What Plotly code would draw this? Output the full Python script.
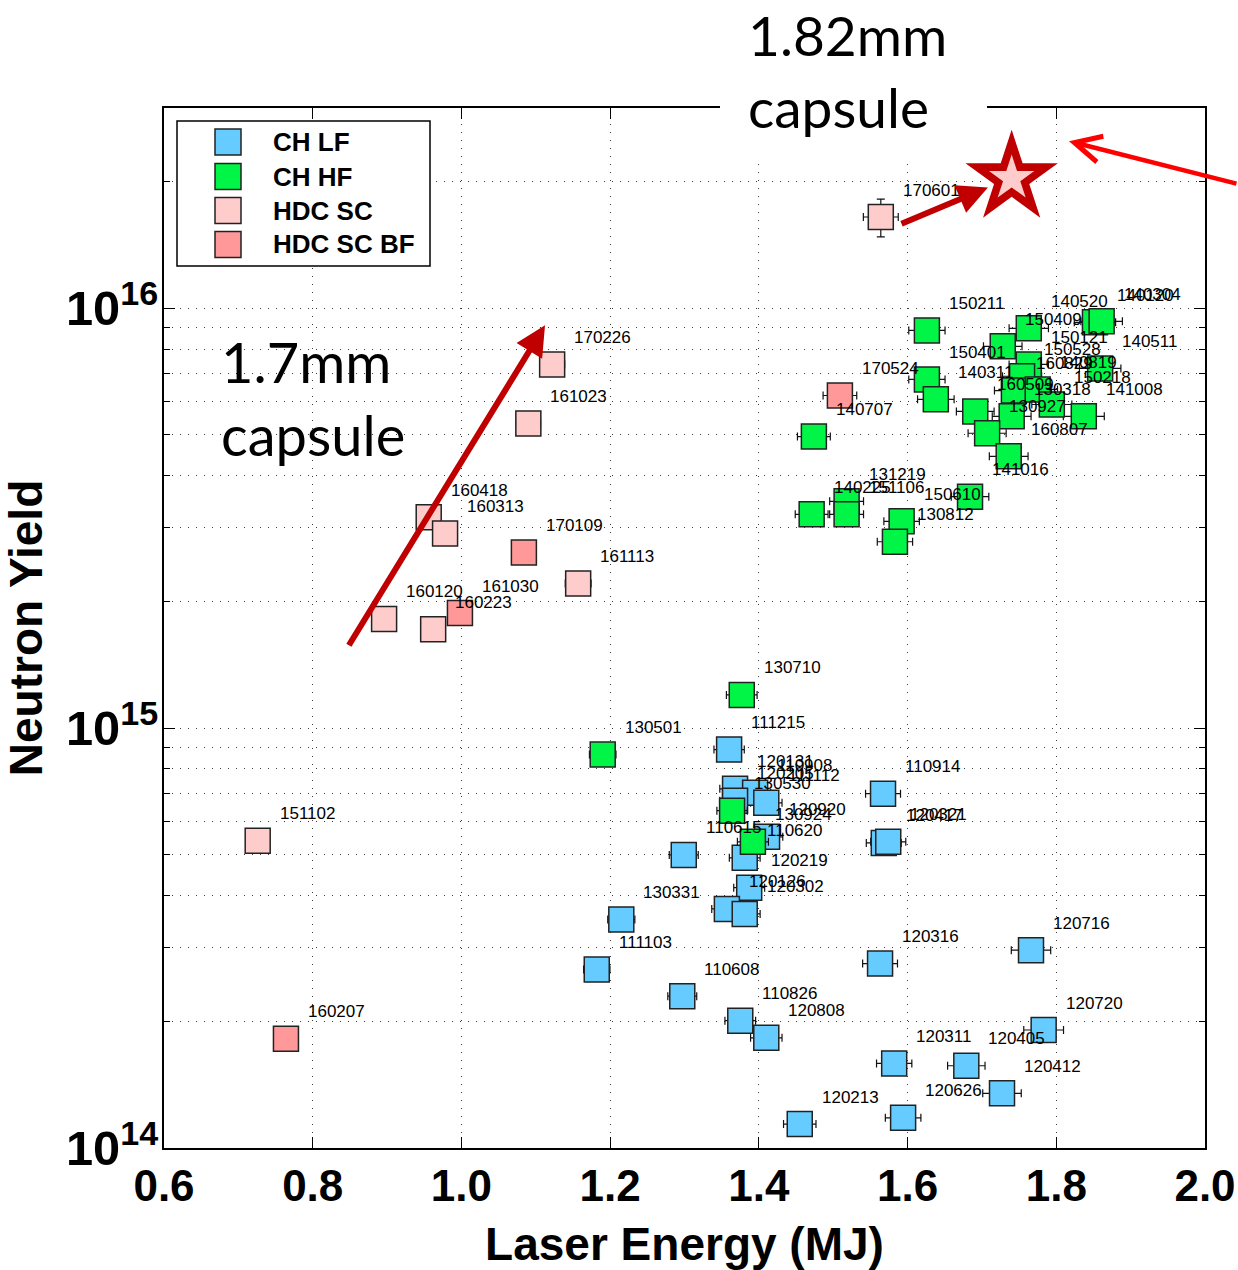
import numpy as np
import plotly.graph_objects as go

# ---------------- shot data: laser energy (MJ) vs neutron yield ----------------
ch_lf_shots = ["111215", "120131", "110908", "120205", "111112", "120920", "110615",
               "110620", "120219", "120126", "120302", "130331", "111103", "110608",
               "110826", "120808", "110914", "120417", "120321", "120316", "120716",
               "120720", "120311", "120405", "120412", "120626", "120213"]
ch_lf_energy = [1.360, 1.368, 1.395, 1.368, 1.410, 1.411, 1.299,
                1.381, 1.387, 1.357, 1.381, 1.215, 1.182, 1.297,
                1.375, 1.410, 1.567, 1.568, 1.574, 1.563, 1.766,
                1.783, 1.582, 1.679, 1.727, 1.594, 1.455]
ch_lf_yield = [8.89e14, 7.17e14, 7.02e14, 6.72e14, 6.64e14, 5.51e14, 4.99e14,
               4.91e14, 4.17e14, 3.71e14, 3.61e14, 3.50e14, 2.66e14, 2.30e14,
               2.01e14, 1.83e14, 6.98e14, 5.33e14, 5.36e14, 2.75e14, 2.96e14,
               1.91e14, 1.59e14, 1.57e14, 1.35e14, 1.18e14, 1.14e14]

ch_hf_shots = ["130710", "130501", "130530", "130924", "150211", "140520", "150409",
               "140120", "140304", "150121", "140511", "150528", "150401", "140311",
               "160829", "140819", "150218", "160509", "130318", "141008", "130927",
               "140707", "160807", "141016", "131219", "150610", "140225", "151106",
               "130812"]
ch_hf_energy = [1.377, 1.190, 1.364, 1.392, 1.626, 1.763, 1.728,
                1.852, 1.861, 1.763, 1.859, 1.754, 1.626, 1.638,
                1.743, 1.775, 1.794, 1.691, 1.740, 1.837, 1.707,
                1.474, 1.736, 1.684, 1.518, 1.592, 1.471, 1.518,
                1.583]
ch_hf_yield = [1.20e15, 8.65e14, 6.36e14, 5.36e14, 8.86e15, 8.96e15, 8.12e15,
               9.26e15, 9.31e15, 7.35e15, 7.19e15, 6.89e15, 6.77e15, 6.07e15,
               6.37e15, 6.41e15, 5.90e15, 5.68e15, 5.53e15, 5.53e15, 5.04e15,
               4.95e15, 4.44e15, 3.56e15, 3.47e15, 3.11e15, 3.23e15, 3.23e15,
               2.78e15]

hdc_sc_shots = ["170601", "170226", "161023", "160418", "160313", "161113",
                "160120", "160223", "151102"]
hdc_sc_energy = [1.564, 1.122, 1.090, 0.956, 0.978, 1.157, 0.896, 0.962, 0.726]
hdc_sc_yield = [1.65e16, 7.35e15, 5.32e15, 3.18e15, 2.91e15, 2.21e15,
                1.82e15, 1.72e15, 5.39e14]
hdc_sc_yield_err = [1.7e15, 0, 0, 0, 0, 0, 0, 0, 0]

hdc_bf_shots = ["170524", "170109", "161030", "160207"]
hdc_bf_energy = [1.509, 1.084, 0.998, 0.764]
hdc_bf_yield = [6.20e15, 2.62e15, 1.88e15, 1.82e14]

# projected point for the larger capsule
star_energy = [1.74]
star_yield = [2.04e16]

# ---------------- styling ----------------
COL_LF = "#66CCFF"
COL_HF = "#00F546"
COL_SC = "#FFCCCC"
COL_BF = "#FF9999"
DARK_RED = "#C00000"
EDGE = "#222222"
SANS = "Liberation Sans, Arial, Helvetica, sans-serif"
CAPTION = "Lato, Open Sans, sans-serif"

W, H = 1238, 1270
L, R, T, B = 164, 33, 108, 122
PW, PH = W - L - R, H - T - B


def px_x(px):
    """page pixel column -> paper x"""
    return (px - L) / PW


def px_y(py):
    """page pixel row -> paper y"""
    return (H - B - py) / PH


def shot_trace(name, energy, yld, color, yerr=None):
    kw = {}
    if yerr is not None:
        kw["error_y"] = dict(type="data", array=yerr, visible=True,
                             color="#111", thickness=1.2, width=4)
    return go.Scatter(
        x=energy, y=yld, mode="markers", name=name, showlegend=False,
        marker=dict(symbol="square", size=25, color=color,
                    line=dict(color=EDGE, width=1.5)),
        error_x=dict(type="percent", value=1.5, color="#111",
                     thickness=1.2, width=4),
        **kw,
    )


fig = go.Figure()
fig.add_trace(shot_trace("CH LF", ch_lf_energy, ch_lf_yield, COL_LF))
fig.add_trace(shot_trace("CH HF", ch_hf_energy, ch_hf_yield, COL_HF))
fig.add_trace(shot_trace("HDC SC", hdc_sc_energy, hdc_sc_yield, COL_SC, hdc_sc_yield_err))
fig.add_trace(shot_trace("HDC SC BF", hdc_bf_energy, hdc_bf_yield, COL_BF))

# star: red outer star with a pale inner star
fig.add_trace(go.Scatter(x=star_energy, y=star_yield, mode="markers", showlegend=False,
                         marker=dict(symbol="star", size=74, color=DARK_RED,
                                     line=dict(color="white", width=2))))
fig.add_trace(go.Scatter(x=star_energy, y=star_yield, mode="markers", showlegend=False,
                         marker=dict(symbol="star", size=34, color=COL_SC,
                                     line=dict(width=0))))

annotations = []

# shot-number labels, offset up and to the right of each square
for shots, energy, yld in [(ch_lf_shots, ch_lf_energy, ch_lf_yield),
                           (ch_hf_shots, ch_hf_energy, ch_hf_yield),
                           (hdc_sc_shots, hdc_sc_energy, hdc_sc_yield),
                           (hdc_bf_shots, hdc_bf_energy, hdc_bf_yield)]:
    for s, e, y in zip(shots, energy, yld):
        annotations.append(dict(
            x=e, y=np.log10(y), xref="x", yref="y", text=s, showarrow=False,
            xanchor="left", yanchor="middle", xshift=20, yshift=27,
            font=dict(family=SANS, size=17, color="black")))

# arrows (tip -> x/y, tail -> ax/ay, log10 units on the y axis)
arrow_specs = [
    dict(x=1.1124, y=15.9595, ax=0.8474, ay=15.194, color=DARK_RED, w=6, head=2, size=1.0),
    dict(x=1.7081, y=16.288, ax=1.5898, ay=16.200, color=DARK_RED, w=6, head=2, size=1.0),
    dict(x=1.8171, y=16.398, ax=2.0443, ay=16.296, color="#FF0000", w=4.5, head=5, size=1.15),
]
for a in arrow_specs:
    annotations.append(dict(
        x=a["x"], y=a["y"], xref="x", yref="y", ax=a["ax"], ay=a["ay"],
        axref="x", ayref="y", text="", showarrow=True, arrowhead=a["head"],
        arrowsize=a["size"], arrowwidth=a["w"], arrowcolor=a["color"]))

# capsule captions
annotations.append(dict(
    x=px_x(219), y=px_y(326), xref="paper", yref="paper", text="1.7mm<br>capsule",
    showarrow=False, xanchor="left", yanchor="top", align="left",
    font=dict(family=CAPTION, size=56, color="black")))
annotations.append(dict(
    x=px_x(746), y=px_y(0), xref="paper", yref="paper", text="1.82mm<br>capsule",
    showarrow=False, xanchor="left", yanchor="top", align="left",
    font=dict(family=CAPTION, size=55, color="black")))

# legend entries
legend_rows = [("CH LF", COL_LF), ("CH HF", COL_HF), ("HDC SC", COL_SC), ("HDC SC BF", COL_BF)]
row_centers = [142, 176.5, 210.5, 244.5]
shapes = [
    # white box behind the top caption, breaking the frame
    dict(type="rect", xref="paper", yref="paper", x0=px_x(720), x1=px_x(987),
         y0=px_y(160), y1=px_y(0), fillcolor="white", line=dict(width=0), layer="above"),
    # legend frame
    dict(type="rect", xref="paper", yref="paper", x0=px_x(177), x1=px_x(430),
         y0=px_y(266), y1=px_y(121), fillcolor="white",
         line=dict(color="black", width=1.5), layer="above"),
]
for (label, col), cy in zip(legend_rows, row_centers):
    shapes.append(dict(type="rect", xref="paper", yref="paper",
                       x0=px_x(215), x1=px_x(241), y0=px_y(cy + 13), y1=px_y(cy - 13),
                       fillcolor=col, line=dict(color=EDGE, width=1.5), layer="above"))
    annotations.append(dict(x=px_x(271), y=px_y(cy), xref="paper", yref="paper",
                            text=label, showarrow=False, xanchor="left", yanchor="middle",
                            font=dict(family=SANS, size=26, color="black", weight="bold")))

grid = dict(gridcolor="#3a3a3a", griddash="1px,7px", gridwidth=1)
axis_common = dict(showline=True, linecolor="black", linewidth=2, mirror="ticks",
                   ticks="inside", ticklen=11, tickcolor="black", tickwidth=1.2,
                   zeroline=False, showgrid=True, **grid)

fig.update_layout(
    width=W, height=H,
    margin=dict(l=L, r=R, t=T, b=B, autoexpand=False),
    paper_bgcolor="white", plot_bgcolor="white",
    showlegend=False,
    annotations=annotations,
    shapes=shapes,
    xaxis=dict(range=[0.6, 2.0], dtick=0.2, tick0=0.6, tickformat=".1f",
               tickfont=dict(family=SANS, size=44, color="black", weight="bold"),
               ticklabelstandoff=-2,
               title=dict(text="Laser Energy (MJ)", standoff=40,
                          font=dict(family=SANS, size=46, color="black", weight="bold")),
               **axis_common),
    yaxis=dict(type="log", range=[14, np.log10(3e16)], dtick=1, exponentformat="power",
               tickfont=dict(family=SANS, size=39, color="black", weight="bold"),
               ticklabelstandoff=-4,
               minor=dict(dtick="D1", ticks="inside", ticklen=6, tickcolor="black",
                          showgrid=True, **grid),
               title=dict(text="Neutron Yield", standoff=22,
                          font=dict(family=SANS, size=46, color="black", weight="bold")),
               **axis_common),
)

fig.write_html("out.html")
